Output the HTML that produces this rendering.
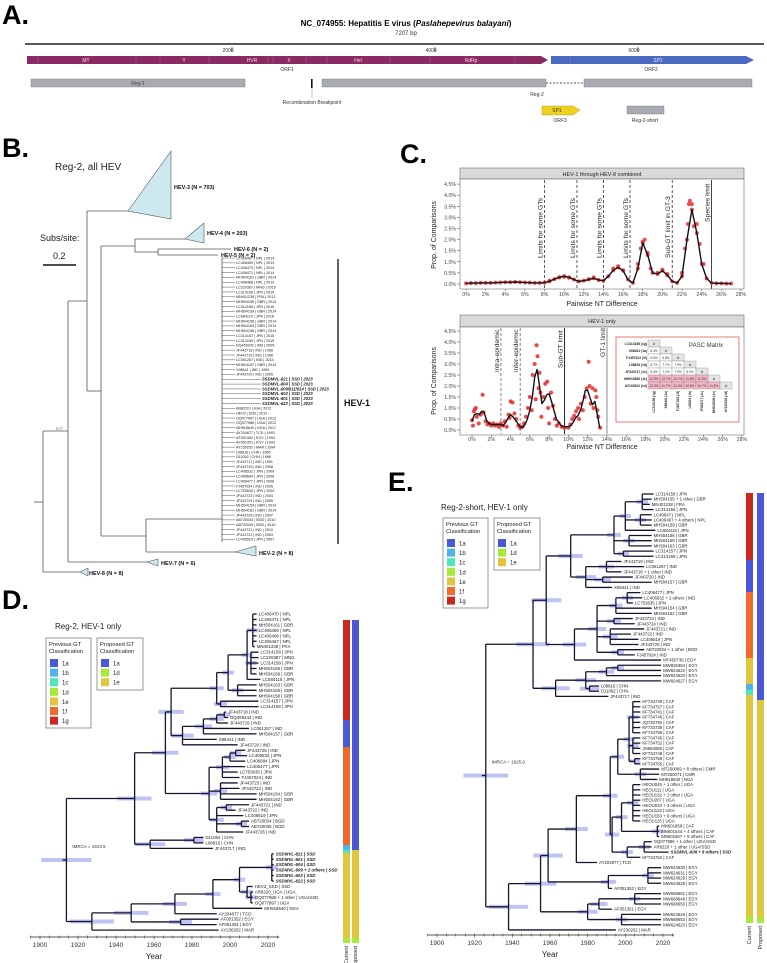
<!DOCTYPE html>
<html><head><meta charset="utf-8"><title>HEV figure</title>
<style>
html,body{margin:0;padding:0;background:#fff;}
svg{display:block;font-family:"Liberation Sans",Arial,sans-serif;}
</style></head>
<body>
<svg id="fig" width="767" height="963" viewBox="0 0 767 963" xmlns="http://www.w3.org/2000/svg">
<rect width="767" height="963" fill="#fff"/>
<!-- Panel A -->
<g>
<text x="2" y="24" font-size="27" font-weight="bold">A.</text>
<text x="406" y="26" font-size="8" font-weight="bold" text-anchor="middle">NC_074955: Hepatitis E virus (<tspan font-style="italic">Paslahepevirus balayani</tspan>)</text>
<text x="406" y="35" font-size="6" text-anchor="middle" fill="#333">7207 bp</text>
<line x1="25" y1="44" x2="764" y2="44" stroke="#222" stroke-width="1.5"/>
<g font-size="5" fill="#333" text-anchor="middle">
<text x="228" y="52">2000</text><line x1="232" y1="47" x2="232" y2="52" stroke="#333" stroke-width="0.6"/>
<text x="431" y="52">4000</text><line x1="435" y1="47" x2="435" y2="52" stroke="#333" stroke-width="0.6"/>
<text x="634" y="52">6000</text><line x1="638" y1="47" x2="638" y2="52" stroke="#333" stroke-width="0.6"/>
</g>
<polygon points="27,56 541,56 548,60 541,64 27,64" fill="#8b2a62"/>
<polygon points="551,56 746,56 754,60 746,64 551,64" fill="#4a6ac2"/>
<g font-size="5" fill="#f3d9e6" text-anchor="middle">
<text x="86" y="62">MT</text><text x="184" y="62">Y</text><text x="252" y="62">HVR</text><text x="289" y="62">X</text><text x="358" y="62">Hel</text><text x="471" y="62">RdRp</text><text x="658" y="62" fill="#dfe6ff">SP2</text>
</g>
<g stroke="#d7a3c0" stroke-width="0.5" stroke-dasharray="1,1">
<line x1="38" y1="57" x2="38" y2="63"/><line x1="136" y1="57" x2="136" y2="63"/><line x1="160" y1="57" x2="160" y2="63"/><line x1="209" y1="57" x2="209" y2="63"/><line x1="268" y1="57" x2="268" y2="63"/><line x1="273" y1="57" x2="273" y2="63"/><line x1="306" y1="57" x2="306" y2="63"/><line x1="327" y1="57" x2="327" y2="63"/><line x1="390" y1="57" x2="390" y2="63"/><line x1="430" y1="57" x2="430" y2="63"/><line x1="515" y1="57" x2="515" y2="63"/><line x1="570" y1="57" x2="570" y2="63"/>
</g>
<text x="287" y="71" font-size="5" fill="#333" text-anchor="middle">ORF1</text>
<text x="651" y="71" font-size="5" fill="#333" text-anchor="middle">ORF2</text>
<rect x="31" y="79" width="214" height="8" fill="#a9abb3" stroke="#777" stroke-width="0.4"/>
<text x="138" y="85" font-size="5" fill="#444" text-anchor="middle">Reg-1</text>
<rect x="311" y="79" width="1.6" height="9" fill="#111"/>
<line x1="312" y1="88" x2="312" y2="98" stroke="#666" stroke-width="0.4"/>
<text x="312" y="104" font-size="5" fill="#333" text-anchor="middle">Recombination Breakpoint</text>
<rect x="322" y="79" width="224" height="8" fill="#a9abb3" stroke="#777" stroke-width="0.4"/>
<line x1="546" y1="83" x2="584" y2="83" stroke="#222" stroke-width="0.8" stroke-dasharray="2,1.5"/>
<rect x="584" y="79" width="168" height="8" fill="#a9abb3" stroke="#777" stroke-width="0.4"/>
<text x="537" y="96" font-size="5" fill="#333" text-anchor="middle">Reg-2</text>
<polygon points="542,106 573,106 580,110 573,115 542,115" fill="#f0d21e" stroke="#a08a10" stroke-width="0.4"/>
<text x="557" y="112" font-size="5" fill="#333" text-anchor="middle">SP1</text>
<text x="560" y="122" font-size="5" fill="#333" text-anchor="middle">ORF3</text>
<rect x="627" y="106" width="37" height="8" fill="#a9abb3" stroke="#777" stroke-width="0.4"/>
<text x="645" y="122" font-size="5" fill="#333" text-anchor="middle">Reg-2-short</text>
</g>

<!-- Panel B skeleton -->
<g id="panelB">
<text x="2" y="157" font-size="27" font-weight="bold">B.</text>
<text x="55" y="170" font-size="10" fill="#222">Reg-2, all HEV</text>
<text x="40" y="241" font-size="9" fill="#222">Subs/site:</text>
<text x="53" y="259" font-size="9" fill="#222">0.2</text>
<line x1="43" y1="265" x2="76" y2="265" stroke="#111" stroke-width="1.5"/>
<g stroke="#555" stroke-width="0.8" fill="none">
<line x1="34" y1="502" x2="43" y2="502"/>
<line x1="43" y1="431" x2="43" y2="572"/>
<line x1="43" y1="572" x2="80" y2="572"/>
<line x1="43" y1="431" x2="68" y2="431"/>
<line x1="68" y1="301" x2="68" y2="562"/>
<line x1="68" y1="562" x2="147" y2="562"/>
<line x1="68" y1="301" x2="87" y2="301"/>
<line x1="87" y1="211" x2="87" y2="391"/>
<line x1="87" y1="211" x2="128" y2="211"/>
<line x1="87" y1="391" x2="101" y2="391"/>
<line x1="101" y1="246" x2="101" y2="536"/>
<line x1="101" y1="246" x2="135" y2="246"/>
<line x1="135" y1="239" x2="135" y2="252"/>
<line x1="135" y1="239" x2="185" y2="239"/>
<line x1="135" y1="252" x2="158" y2="252"/>
<line x1="158" y1="249" x2="158" y2="255"/>
<line x1="158" y1="249" x2="231" y2="249"/>
<line x1="158" y1="255" x2="218" y2="255"/>
<line x1="101" y1="536" x2="146" y2="536"/>
<line x1="146" y1="519" x2="146" y2="552"/>
<line x1="146" y1="519" x2="222" y2="519"/>
<line x1="146" y1="552" x2="235" y2="552"/>
<line x1="222" y1="258" x2="222" y2="542"/>
</g>
<polygon points="128,211 171,151 171,219" fill="#cde8ef" stroke="#555" stroke-width="0.6"/>
<polygon points="185,239 204,223 204,243" fill="#cde8ef" stroke="#555" stroke-width="0.6"/>
<polygon points="235,552 256,546 256,556" fill="#cde8ef" stroke="#555" stroke-width="0.6"/>
<polygon points="147,562 158,559 158,566" fill="#cde8ef" stroke="#555" stroke-width="0.6"/>
<polygon points="80,572 88,568 88,576" fill="#cde8ef" stroke="#555" stroke-width="0.6"/>
<g font-size="5.5" font-weight="bold" fill="#111">
<text x="174" y="189">HEV-3 (N = 703)</text>
<text x="207" y="235">HEV-4 (N = 203)</text>
<text x="234" y="251">HEV-6 (N = 2)</text>
<text x="221" y="257">HEV-5 (N = 2)</text>
<text x="259" y="555">HEV-2 (N = 8)</text>
<text x="161" y="565">HEV-7 (N = 6)</text>
<text x="89" y="575">HEV-8 (N = 8)</text>
</g>
<text x="56" y="430" font-size="3.5" fill="#333">0.77</text>
<line x1="338" y1="259" x2="338" y2="544" stroke="#111" stroke-width="1.3"/>
<text x="344" y="406" font-size="9" font-weight="bold" fill="#111">HEV-1</text>
</g>

<!-- Panel C -->
<g id="panelC">
<text x="400" y="163" font-size="27" font-weight="bold">C.</text>
<rect x="460" y="168" width="284" height="11" fill="#d9d9d9" stroke="#555" stroke-width="0.5"/>
<text x="602" y="176" font-size="5.5" text-anchor="middle" fill="#222">HEV-1 through HEV-8 combined</text>
<rect x="460" y="179" width="284" height="110" fill="#fff" stroke="#555" stroke-width="0.5"/>
<g id="topPlot"></g>
<text x="602" y="306" font-size="7" text-anchor="middle" fill="#222">Pairwise NT Difference</text>
<text transform="translate(436,235) rotate(-90)" font-size="7" text-anchor="middle" fill="#222">Prop. of Comparisons</text>

<rect x="460" y="315" width="284" height="12" fill="#d9d9d9" stroke="#555" stroke-width="0.5"/>
<text x="602" y="323" font-size="5.5" text-anchor="middle" fill="#222">HEV-1 only</text>
<rect x="460" y="327" width="284" height="108" fill="#fff" stroke="#555" stroke-width="0.5"/>
<g id="botPlot"></g>
<text x="602" y="449" font-size="7" text-anchor="middle" fill="#222">Pairwise NT Difference</text>
<text transform="translate(436,381) rotate(-90)" font-size="7" text-anchor="middle" fill="#222">Prop. of Comparisons</text>
<g id="pasc">
<rect x="616" y="337" width="123" height="85" fill="#fff" stroke="#d44" stroke-width="0.7"/>
<text x="706" y="347" font-size="6" text-anchor="middle" fill="#333">PASC Matrix</text>
</g>
</g>

<!-- Panel D -->
<g id="panelD">
<text x="2" y="609" font-size="27" font-weight="bold">D.</text>
<text x="55" y="629" font-size="8" fill="#222">Reg-2, HEV-1 only</text>
<g id="dLegend"></g>
<g id="dTree"></g>
<g id="dAxis"></g>
<g id="dBars"></g>
</g>

<!-- Panel E -->
<g id="panelE">
<text x="388" y="491" font-size="27" font-weight="bold">E.</text>
<text x="441" y="510" font-size="8" fill="#222">Reg-2-short, HEV-1 only</text>
<g id="eLegend"></g>
<g id="eTree"></g>
<g id="eAxis"></g>
<g id="eBars"></g>
</g>
</svg>

<script>
// ---------- Panel C data ----------
var topCurveX = [0,0.5,1,1.5,2,2.5,3,3.5,4,4.5,5,5.5,6,6.5,7,7.5,8,8.5,9,9.5,10,10.5,11,11.5,12,12.5,13,13.5,14,14.5,15,15.5,16,16.5,17,17.5,18,18.5,19,19.5,20,20.5,21,21.5,22,22.5,23,23.5,24,24.5,25,25.5,26,26.5,27];
var topCurveY = [0.03,0.04,0.04,0.05,0.05,0.05,0.06,0.07,0.08,0.08,0.09,0.08,0.07,0.06,0.05,0.05,0.06,0.12,0.22,0.3,0.35,0.3,0.2,0.12,0.15,0.2,0.26,0.18,0.15,0.35,0.62,0.75,0.6,0.2,0.05,0.7,1.85,1.3,0.5,0.45,0.6,0.4,0.12,0.05,0.35,2.0,3.35,2.3,0.9,0.25,0.05,0.03,0.03,0.02,0.02];
var topObsX = [8.5,9.5,10,10.5,12.5,13,15,15.5,16,17.5,17.8,18,18.2,18.5,18.8,19.5,20,20.5,22,22.3,22.6,22.7,22.8,23,23.2,23.5,23.8,24.2];
var topObsY = [0.15,0.3,0.32,0.28,0.22,0.3,0.7,0.8,0.62,0.9,1.6,1.9,2.0,1.4,0.7,0.5,0.65,0.45,0.5,1.6,2.7,3.6,3.75,3.6,2.6,2.7,1.8,0.9];
var topTickLabels = ["0%","2%","4%","6%","8%","10%","12%","14%","16%","18%","20%","22%","24%","26%","28%"];
var yTickLabels = ["0.0%","0.5%","1.0%","1.5%","2.0%","2.5%","3.0%","3.5%","4.0%","4.5%"];
var topDashedAt = [8,11.3,14,16.7,21];
var topDashedLabels = ["Limits for some GTs","Limits for some GTs","Limits for some GTs","Limits for some GTs","Sub-GT limit in GT-3"];
var topSolidAt = [25];
var topSolidLabels = ["Species limit"];

var botLineX = [0,0.25,0.5,0.75,1,1.25,1.5,1.75,2,2.25,2.5,2.75,3,3.25,3.5,3.75,4,4.25,4.5,4.75,5,5.25,5.5,5.75,6,6.25,6.5,6.75,7,7.25,7.5,7.75,8,8.25,8.5,8.75,9,9.25,9.5,9.75,10,10.25,10.5,10.75,11,11.25,11.5,11.75,12,12.25,12.5,12.75,13,13.25];
var botLineY = [0.4,0.7,0.75,0.7,0.85,0.8,0.45,0.3,0.25,0.25,0.25,0.25,0.25,0.2,0.35,0.55,0.7,0.6,0.45,0.3,0.15,0.1,0.25,0.5,0.9,1.5,2.4,2.75,2.0,1.2,1.35,1.6,1.65,1.3,0.9,0.5,0.35,0.2,0.15,0.15,0.15,0.2,0.35,0.55,0.65,0.9,1.3,1.8,1.8,1.45,1.15,1.3,0.7,0.1];
var botDotX = [0.0,0.1,0.2,0.3,0.4,0.5,0.7,0.9,1.1,1.2,1.4,1.6,1.8,2.0,2.2,2.4,2.6,2.8,3.0,3.2,3.4,3.6,3.8,3.9,4.0,4.2,4.4,4.6,4.8,5.0,5.2,5.4,5.6,5.8,6.0,6.2,6.3,6.5,6.6,6.7,6.8,6.9,7.0,7.1,7.2,7.4,7.6,7.8,7.9,8.0,8.2,8.4,8.6,8.8,9.0,9.3,9.6,10.0,10.2,10.4,10.6,10.8,11.0,11.1,11.3,11.5,11.7,11.9,12.1,12.2,12.3,12.5,12.6,12.8,12.9,13.0,13.1,13.3];
var botDotY = [0.45,0.2,0.85,0.95,1.0,0.6,0.3,0.7,1.6,0.8,0.4,0.25,0.3,0.2,0.3,0.2,0.25,0.15,0.3,0.2,0.4,0.15,0.7,0.55,1.3,1.25,0.75,0.5,0.2,0.1,0.15,0.3,0.6,1.0,1.5,0.9,2.5,3.0,1.4,3.85,3.35,1.9,2.6,1.7,0.6,1.5,2.1,2.2,1.0,0.3,1.7,1.1,0.5,0.2,0.3,0.15,0.1,0.1,0.25,0.5,0.65,0.85,1.0,0.5,1.2,0.9,1.5,1.9,3.1,2.0,1.2,1.9,1.0,1.8,1.5,0.9,0.6,0.1];
var botDashedAt = [3,5];
var botDashedLabels = ["intra-epidemic","inter-epidemic"];
var botSolidAt = [9.6,14];
var botSolidLabels = ["Sub-GT limit","GT-1 limit"];

var pascRows = ["LC314158 (1g)","X98441 (1a)","FJ457024 (1f)","L08816 (1b)","JF443717 (1c)","MH918640 (1e)","AY230202 (1d)"];
var pascValues = [[],["6.3%"],["6.6%","6.8%"],["8.7%","7.7%","7.9%"],["8.4%","7.2%","7.9%","5.0%"],["12.5%","12.7%","12.7%","11.8%","11.6%"],["12.3%","11.7%","11.6%","10.8%","10.7%","11.8%"]];

// ---------- Panel D / E tree data ----------
var gtNames = ["1a","1b","1c","1d","1e","1f","1g"];
var gtColors = ["#4b57d6","#4fb4ea","#4fe6bb","#a7ea3b","#e0c640","#ef6a2b","#c9291f"];
var propNames = ["1a","1d","1e"];
var propColors = ["#4b57d6","#a7ea3b","#e0c640"];

// leaves: [label, tipYear]; internal: [nodeYear, child...]
var dTreeData =
[1913.9,
  [1949.8,
    [1966,
      [1969,
        [1993,
          [1999,
            [2009,
              [2012,["LC406470 | NPL",2014],["LC406471 | NPL",2014],["MH504161 | GBR",2014],["LC406469 | NPL",2014],["LC406468 | NPL",2014],["LC406467 | NPL",2014],["MN401238 | FRA",2013]],
              [2011,["LC314156 | JPN",2015],["LC220387 | MNG",2015],["LC314158 | JPN",2015],["MH504155 | GBR",2014],["MH504159 | GBR",2014]],
              ["LC684115 | JPN",2016]],
            [2004,["MH504163 | GBR",2014],["MH504156 | GBR",2014],["MH504158 | GBR",2014]]],
          [1995,["LC314157 | JPN",2015],["LC314159 | JPN",2015]]],
        [1975,
          [1986,[1993,[1997,["JF443718 | IND",1998],["DQ459342 | IND",1999]],["JF443719 | IND",1999]],["LC061267 | IND",2010],["MH504157 | GBR",2014]],
          ["X98441 | IND",1993],["JF443720 | IND",2004]]],
      [1989,
        [1996,[2000,[2003,["JF443725 | IND",2008],["LC406532 | JPN",2009]],["LC406684 | JPN",2008]],["LC406477 | JPN",2008],["LC753635 | JPN",2004],["FJ457024 | IND",2005]],
        [1995,["JF443723 | IND",2004],["JF443724 | IND",2005],["MH504154 | GBR",2014],["MH504162 | GBR",2014]],
        [1993,[1998,["JF443721 | IND",2010],["JF443722 | IND",2003]],["LC406519 | JPN",2007],[2006,["AB720034 | BGD",2010],["AB720035 | BGD",2010]],["JF443726 | IND",2007]]]],
    [1958,[1981,["D11092 | CHN",1986],["L08816 | CHN",1986]],["JF443717 | IND",1991]]],
  [1927.3,
    [1948,
      [1971,
        [1991,
          [2005,
            [2022,["*SSDMVL-621 | SSD",2023],["*SSDMVL-601 | SSD",2023],["*SSDMVL-604 | SSD",2023],["*SSDMVL-609 + 2 others | SSD",2023],["*SSDMVL-602 | SSD",2023],["*SSDMVL-622 | SSD",2023]],
            [2009,["HEV2_SSD | SSD",2012],[2011,["AR8220_UGA | UGA",2012],["OQ077986 + 1 other | UGA/SSD",2012],["OQ077997 | UGA",2012]]]],
          ["MH918640 | NGA",2017]],
        ["AY204877 | TCD",1993]],
      [1974,["AF051352 | EGY",1994],["AF051351 | EGY",1993]]],
    ["AY230202 | MAR",1994]]];

var eTreeData =
[1925.9,
  [1951,
    [1958,
      [1971,
        [1994,
          [2000,
            [2009,["LC314158 | JPN",2015],["MH504155 + 1 other | GBR",2014],["MN401238 | FRA",2013],["LC314156 | JPN",2015]],
            [2008,["LC406471 | NPL",2014],["LC406467 + 4 others | NPL",2014],["MH504159 | GBR",2014]],
            ["LC684115 | JPN",2016]],
          [2002,["MH504156 | GBR",2014],["MH504158 | GBR",2014],["MH504163 | GBR",2014]],
          [1999,["LC314157 | JPN",2015],["LC314159 | JPN",2015]]],
        [1979,
          [1990,["JF443719 | IND",1998],["LC061267 | IND",2010],["JF443718 + 1 other | IND",1998]],
          [1988,["JF443720 | IND",2004],["MH504157 | GBR",2014]],
          ["X98441 | IND",1993]]],
      [1973,
        [1985,
          [1995,[2001,["LC406477 | JPN",2008],["LC406532 + 2 others | IND",2009],["LC753635 | JPN",2004]],["MH504154 | GBR",2014],["MH504162 | GBR",2014]],
          [1994,["JF443723 | IND",2004],["JF443724 | IND",2005]],
          [1992,["JF443721 | IND",2010],["JF443722 | IND",2003],["LC406519 | JPN",2007],["JF443726 | IND",2007]],
          [1996,["AB720034 + 1 other | BGD",2010],["FJ457024 | IND",2005]]],
        ["MT450736 | EGY",2019]]],
    [1963,
      [1979,[1990,[1996,["MW826394 | EGY",2019],["MW824622 | EGY",2019]],["MW824620 | EGY",2019]],["MW824627 | EGY",2019],[1981,["L08816 | CHN",1986],["D11092 | CHN",1986]]],
      ["JF443717 | IND",1991]]],
  [1938,
    [1955,
      [1959,
        [1974,
          [1992,
            [1996,
              [2002,
                [2004,["KF734749 | CAF",2008],["KF734757 | CAF",2008],["KF734741 | CAF",2008],["KF734746 | CAF",2008],["JQ740782 | CAF",2008],["KF734739 | CAF",2008],["KF734756 | CAF",2008]],
                [2004,["KF734745 | CAF",2008],["KF734752 | CAF",2008],["JN863089 | CAF",2008],["KF734748 | CAF",2008]],
                [2005,["KF734758 | CAF",2008],["KF734755 | CAF",2008]]],
              [2008,["MT250069 + 8 others | CMR",2018],["MT250071 | CMR",2018],["MH918640 | NGA",2017]]],
            [1993,
              [1998,
                [2004,["HEOU045 + 1 other | UGA",2008],["HEOU111 | UGA",2008],["HEOU132 + 1 other | UGA",2008],["HEOU207 | UGA",2008],["HEOU033 + 3 others | UGA",2008],["HEOU122 | UGA",2008],["HEOU153 + 6 others | UGA",2008],["HEOU125 | UGA",2008]],
                [2017,["MN601858 | CAF",2018],["MN601544 + 4 others | CAF",2018],["MN601567 + 9 others | CAF",2018]]],
              [2001,[2010,["OQ077986 + 1 other | UGA/SSD",2014],["AR8220 + 1 other | UGA/SSD",2014],["*SSDMVL-609 + 8 others | SSD",2023]],["KF734762 | CAF",2008]]]],
          ["AY204877 | TCD",1985]],
        [1991,[2012,["MW624630 | EGY",2019],["MW624631 | EGY",2019],["MW624629 | EGY",2019],["MW624628 | EGY",2019]],["AF051352 | EGY",1993]]],
      [1980,
        [1986,[2005,["MW668651 | EGY",2019],["MW668649 | EGY",2019],["MW668650 | EGY",2019]],["AF051351 | EGY",1993]],
        [1998,["MW624626 | EGY",2019],["MW668652 | EGY",2019],["MW624623 | EGY",2019]]]],
    ["AY230202 | MAR",1995]]];

var dCurrentSegs = [[620,720,6],[720,747,0],[747,845,5],[845,850,1],[850,853,2],[853,938,4],[938,943,3]];
var dProposedSegs = [[620,850,0],[850,938,2],[938,943,1]];
var eCurrentSegs = [[493,560,6],[560,592,0],[592,658,5],[658,684,4],[684,690,1],[690,695,2],[695,917,4],[917,923,3]];
var eProposedSegs = [[493,700,0],[700,917,2],[917,923,1]];

var bLeaves = ["LC406467 | NPL | 2014","LC406469 | NPL | 2014","LC406470 | NPL | 2014","LC406471 | NPL | 2014","MH504161 | GBR | 2014","LC406468 | NPL | 2014","LC220387 | MNG | 2015","LC314156 | JPN | 2015","MN401238 | FRA | 2013","MH504155 | GBR | 2014","LC314158 | JPN | 2015","MH504159 | GBR | 2014","LC684115 | JPN | 2016","MH504156 | GBR | 2014","MH504163 | GBR | 2014","MH504158 | GBR | 2014","LC314157 | JPN | 2015","LC314159 | JPN | 2015","DQ459342 | IND | 2005","JF443718 | IND | 1998","JF443719 | IND | 1998","LC061267 | IND | 2015","MH504157 | GBR | 2014","X98441 | IND | 1993","JF443720 | IND | 2005","*SSDMVL-621 | SSD | 2023","*SSDMVL-604 | SSD | 2023","*SSDMVL-609/611/614 | SSD | 2023","*SSDMVL-602 | SSD | 2023","*SSDMVL-601 | SSD | 2023","*SSDMVL-622 | SSD | 2023","AR8220 | UGA | 2012","HEV2 | SSD | 2012","OQ077997 | UGA | 2012","OQ077986 | UGA | 2012","MH918640 | NGA | 2017","AY204877 | TCD | 1993","AF051352 | EGY | 1994","AF051351 | EGY | 1993","AY230202 | MAR | 1994","L08816 | CHN | 1986","D11092 | CHN | 1986","JF443717 | IND | 1991","JF443725 | IND | 2008","LC406532 | JPN | 2009","LC406684 | JPN | 2008","LC406477 | JPN | 2008","FJ457024 | IND | 2005","LC753635 | JPN | 2004","JF443723 | IND | 2004","JF443724 | IND | 2005","MH504154 | GBR | 2014","MH504162 | GBR | 2014","JF443726 | IND | 2007","AB720034 | BGD | 2010","AB720035 | BGD | 2010","JF443721 | IND | 2010","JF443722 | IND | 2003","LC406519 | JPN | 2007"];

var NS = "http://www.w3.org/2000/svg";
function mk(tag, parent, attrs, text){
  var el = document.createElementNS(NS, tag);
  for (var k in attrs) el.setAttribute(k, attrs[k]);
  if (text !== undefined) el.textContent = text;
  parent.appendChild(el);
  return el;
}

// ---------- Panel C top ----------
(function(){
  var g = document.getElementById('topPlot');
  var xT = function(v){ return 466 + v*9.82; };
  var yT = function(v){ return 284 - v*22.2; };
  var i, el;
  for (i=0;i<yTickLabels.length;i++){
    el = mk('text', g, {x:456, y:yT(i*0.5)+2, 'font-size':5.2, 'text-anchor':'end', fill:'#444'}, yTickLabels[i]);
    
    
    mk('line', g, {x1:457, x2:460, y1:yT(i*0.5), y2:yT(i*0.5), stroke:'#444', 'stroke-width':0.5});
  }
  for (i=0;i<topTickLabels.length;i++){
    el = mk('text', g, {x:xT(i*2), y:296, 'font-size':5.2, 'text-anchor':'middle', fill:'#444'}, topTickLabels[i]);
    
    
    mk('line', g, {x1:xT(i*2), x2:xT(i*2), y1:289, y2:291, stroke:'#444', 'stroke-width':0.5});
  }
  for (i=0;i<topDashedAt.length;i++){
    el = mk('line', g, {x1:xT(topDashedAt[i]), x2:xT(topDashedAt[i]), y1:180, y2:289, stroke:'#333', 'stroke-width':0.8, 'stroke-dasharray':'3,2'});
    
    
    el = mk('text', g, {transform:'translate('+(xT(topDashedAt[i])-2)+',258) rotate(-90)', 'font-size':6.8, fill:'#222'}, topDashedLabels[i]);
    
    
  }
  for (i=0;i<topSolidAt.length;i++){
    el = mk('line', g, {x1:xT(topSolidAt[i]), x2:xT(topSolidAt[i]), y1:180, y2:289, stroke:'#444', 'stroke-width':1});
    
    
    el = mk('text', g, {transform:'translate('+(xT(topSolidAt[i])-2)+',222) rotate(-90)', 'font-size':6.8, fill:'#222'}, topSolidLabels[i]);
    
    
  }
  var d = '';
  for (i=0;i<topCurveX.length;i++){
    el = mk('circle', g, {cx:xT(topCurveX[i]), cy:yT(topCurveY[i]), r:2, fill:'#e8343a', opacity:0.85});
    
    
  }
  for (i=0;i<topObsX.length;i++){
    el = mk('circle', g, {cx:xT(topObsX[i]), cy:yT(topObsY[i]), r:2, fill:'#e8343a', opacity:0.85});
    
    
  }
  for (i=0;i<topCurveX.length;i++) d += (i?'L':'M') + xT(topCurveX[i]).toFixed(1) + ',' + yT(topCurveY[i]).toFixed(1);
  el = mk('path', g, {d:d, fill:'none', stroke:'#111', 'stroke-width':1.4, 'stroke-linejoin':'round'});
  
  
})();

// ---------- Panel C bottom ----------
(function(){
  var g = document.getElementById('botPlot');
  var xB = function(v){ return 472 + v*9.64; };
  var yB = function(v){ return 430 - v*22; };
  var i, el;
  for (i=0;i<yTickLabels.length;i++){
    el = mk('text', g, {x:456, y:yB(i*0.5)+2, 'font-size':5.2, 'text-anchor':'end', fill:'#444'}, yTickLabels[i]);
    
    
    mk('line', g, {x1:457, x2:460, y1:yB(i*0.5), y2:yB(i*0.5), stroke:'#444', 'stroke-width':0.5});
  }
  for (i=0;i<topTickLabels.length;i++){
    el = mk('text', g, {x:xB(i*2), y:441, 'font-size':5.2, 'text-anchor':'middle', fill:'#444'}, topTickLabels[i]);
    
    
    mk('line', g, {x1:xB(i*2), x2:xB(i*2), y1:435, y2:437, stroke:'#444', 'stroke-width':0.5});
  }
  for (i=0;i<botDashedAt.length;i++){
    el = mk('line', g, {x1:xB(botDashedAt[i]), x2:xB(botDashedAt[i]), y1:328, y2:434, stroke:'#777', 'stroke-width':0.9, 'stroke-dasharray':'3,2'});
    
    
    el = mk('text', g, {transform:'translate('+(xB(botDashedAt[i])-2)+',372) rotate(-90)', 'font-size':6.8, fill:'#222'}, botDashedLabels[i]);
    
    
  }
  for (i=0;i<botSolidAt.length;i++){
    el = mk('line', g, {x1:xB(botSolidAt[i]), x2:xB(botSolidAt[i]), y1:328, y2:434, stroke:(i?'#888':'#222'), 'stroke-width':1});
    
    
    el = mk('text', g, {transform:'translate('+(xB(botSolidAt[i])-2)+','+(i?357:368)+') rotate(-90)', 'font-size':6.8, fill:'#222'}, botSolidLabels[i]);
    
    
  }
  for (i=0;i<botDotX.length;i++){
    el = mk('circle', g, {cx:xB(botDotX[i]), cy:yB(botDotY[i]), r:2, fill:'#e8343a', opacity:0.9});
    
    
  }
  var d = '';
  for (i=0;i<botLineX.length;i++) d += (i?'L':'M') + xB(botLineX[i]).toFixed(1) + ',' + yB(botLineY[i]).toFixed(1);
  el = mk('path', g, {d:d, fill:'none', stroke:'#111', 'stroke-width':1.4, 'stroke-linejoin':'round'});
  
  

  // PASC matrix
  var p = document.getElementById('pasc');
  var cx0 = 648, cw = 12, ch = 7, ry0 = 340;
  for (var r=0;r<pascRows.length;r++){
    var yy = ry0 + r*ch;
    el = mk('text', p, {x:cx0-1, y:yy+5, 'font-size':3.3, 'font-weight':'bold', 'text-anchor':'end', fill:'#222'}, pascRows[r]);
    
    
    for (var c=0;c<=r;c++){
      var isId = (c===r);
      var fill = isId ? '#e6e6e6' : (r>=5 ? '#f6b8c6' : '#fff');
      el = mk('rect', p, {x:cx0+c*cw, y:yy, width:cw, height:ch, fill:fill, stroke:'#777', 'stroke-width':0.3});
      
      
      mk('text', p, {x:cx0+c*cw+cw/2, y:yy+5, 'font-size':3.2, 'text-anchor':'middle', fill:'#333'}, isId ? 'id' : pascValues[r][c]);
    }
  }
  for (var c2=0;c2<pascRows.length;c2++){
    el = mk('text', p, {transform:'translate('+(cx0+c2*cw+cw/2+1)+','+(ry0+pascRows.length*ch+2)+') rotate(-90)', 'font-size':3.2, 'font-weight':'bold', 'text-anchor':'end', fill:'#222'}, pascRows[c2]);
    
    
  }
})();

// ---------- Panel B HEV-1 leaves ----------
(function(){
  var g = document.getElementById('panelB');
  var y0 = 258, sp = 4.85, el;
  for (var i=0;i<bLeaves.length;i++){
    var y = y0 + i*sp;
    var lab = bLeaves[i], bold = lab.charAt(0)==='*';
    if (bold) lab = lab.slice(1);
    var lx = bold ? 262 : 236;
    mk('line', g, {x1:222, x2:lx-1, y1:y, y2:y, stroke:'#555', 'stroke-width':0.5});
    el = mk('text', g, {x:lx, y:y+1.3, 'font-size':bold?4.2:3.7, 'font-weight':bold?'bold':'normal', 'font-style':bold?'italic':'normal', fill:'#222'}, lab);
    
    
  }
})();

// ---------- Legends ----------
function legend(parentId, x, y, prefix){
  var g = document.getElementById(parentId), el, i;
  el = mk('rect', g, {x:x, y:y, width:45, height:90, fill:'#fff', stroke:'#555', 'stroke-width':0.6});
  
  
  mk('text', g, {x:x+3, y:y+8, 'font-size':5.8, fill:'#222'}, 'Previous GT');
  mk('text', g, {x:x+3, y:y+15, 'font-size':5.8, fill:'#222'}, 'Classification');
  for (i=0;i<gtNames.length;i++){
    el = mk('rect', g, {x:x+4, y:y+21+i*9.6, width:8, height:8, fill:gtColors[i]});
    
    
    mk('text', g, {x:x+16, y:y+27.5+i*9.6, 'font-size':6, fill:'#222'}, gtNames[i]);
  }
  var x2 = x + 51;
  el = mk('rect', g, {x:x2, y:y, width:46, height:52, fill:'#fff', stroke:'#555', 'stroke-width':0.6});
  
  
  mk('text', g, {x:x2+3, y:y+8, 'font-size':5.8, fill:'#222'}, 'Proposed GT');
  mk('text', g, {x:x2+3, y:y+15, 'font-size':5.8, fill:'#222'}, 'Classification');
  for (i=0;i<propNames.length;i++){
    el = mk('rect', g, {x:x2+4, y:y+21+i*9.6, width:8, height:8, fill:propColors[i]});
    
    
    mk('text', g, {x:x2+16, y:y+27.5+i*9.6, 'font-size':6, fill:'#222'}, propNames[i]);
  }
}
legend('dLegend', 46, 638, 'd');
legend('eLegend', 443, 518, 'e');

// ---------- Dated trees ----------
function drawTree(gid, data, xOf, yStart, ySp, fontSize, prefix){
  var g = document.getElementById(gid);
  var count = 0;
  var bars = mk('g', g, {});
  var lines = mk('g', g, {});
  var labs = mk('g', g, {});
  function lay(n){
    if (typeof n[0] === 'string'){
      var y = yStart + (count++)*ySp;
      return {y:y, t:n[1], leaf:true, label:n[0]};
    }
    var kids = [];
    for (var i=1;i<n.length;i++) kids.push(lay(n[i]));
    var y = (kids[0].y + kids[kids.length-1].y)/2;
    return {y:y, t:n[0], kids:kids};
  }
  var root = lay(data);
  function draw(nd){
    var el;
    if (nd.leaf){
      var lab = nd.label, bold = lab.charAt(0)==='*';
      if (bold) lab = lab.slice(1);
      el = mk('text', labs, {x:xOf(nd.t)+2, y:nd.y+fontSize*0.35, 'font-size':fontSize, 'font-weight':bold?'bold':'normal', 'font-style':bold?'italic':'normal', fill:'#222'}, lab);
      
      
      return;
    }
    var x = xOf(nd.t);
    var hw = Math.max(3, (2024-nd.t)*0.12);
    el = mk('rect', bars, {x:x-hw*1.9, y:nd.y-2, width:hw*3.8, height:4, fill:'#a9aff0', opacity:0.75});
    
    
    var ys = nd.kids.map(function(k){return k.y;});
    mk('line', lines, {x1:x, x2:x, y1:Math.min.apply(null,ys), y2:Math.max.apply(null,ys), stroke:'#15152e', 'stroke-width':1.3});
    for (var i=0;i<nd.kids.length;i++){
      var k = nd.kids[i];
      el = mk('line', lines, {x1:x, x2:xOf(k.t), y1:k.y, y2:k.y, stroke:'#15152e', 'stroke-width':1.3});
      
      
      draw(k);
    }
  }
  draw(root);
  mk('line', lines, {x1:xOf(root.t)-4, x2:xOf(root.t), y1:root.y, y2:root.y, stroke:'#15152e', 'stroke-width':1.3});
  var t = mk('text', labs, {x:xOf(root.t)+6, y:root.y-12, 'font-size':4.5, fill:'#333'}, 'tMRCA = '+root.t.toFixed(1));
  
  
}
var xD = function(yr){ return 40 + (yr-1900)*1.9; };
var xE = function(yr){ return 437 + (yr-1900)*1.883; };
drawTree('dTree', dTreeData, xD, 614, 5.45, 4.4, 'd');
drawTree('eTree', eTreeData, xE, 494, 5.19, 4.3, 'e');

function axis(gid, xOf, y, prefix){
  var g = document.getElementById(gid), el;
  el = mk('line', g, {x1:xOf(1895), x2:xOf(2026), y1:y, y2:y, stroke:'#222', 'stroke-width':0.8});
  
  
  for (var yr=1895; yr<=2025; yr+=5){
    mk('line', g, {x1:xOf(yr), x2:xOf(yr), y1:y-1.5, y2:y+(yr%20===0?2.5:1.5), stroke:'#222', 'stroke-width':0.5});
    if (yr%20===0){
      el = mk('text', g, {x:xOf(yr), y:y+10, 'font-size':6.5, 'text-anchor':'middle', fill:'#333'}, String(yr));
      
      
    }
  }
  el = mk('text', g, {x:(xOf(1900)+xOf(2020))/2, y:y+22, 'font-size':8, 'text-anchor':'middle', fill:'#222'}, 'Year');
  
  
}
axis('dAxis', xD, 937, 'd');
axis('eAxis', xE, 935, 'e');

function bars(gid, x1, x2, cur, prop, labY, prefix){
  var g = document.getElementById(gid), el, i, s;
  for (i=0;i<cur.length;i++){
    s = cur[i];
    el = mk('rect', g, {x:x1, y:s[0], width:7, height:s[1]-s[0], fill:gtColors[s[2]]});
    
    
  }
  for (i=0;i<prop.length;i++){
    s = prop[i];
    el = mk('rect', g, {x:x2, y:s[0], width:7, height:s[1]-s[0], fill:propColors[s[2]]});
    
    
  }
  el = mk('text', g, {transform:'translate('+(x1+5)+','+labY+') rotate(-90)', 'font-size':5.5, 'text-anchor':'end', fill:'#222'}, 'Current');
  
  
  el = mk('text', g, {transform:'translate('+(x2+5)+','+labY+') rotate(-90)', 'font-size':5.5, 'text-anchor':'end', fill:'#222'}, 'Proposed');
  
  
}
bars('dBars', 343, 352, dCurrentSegs, dProposedSegs, 946, 'd');
bars('eBars', 746, 757, eCurrentSegs, eProposedSegs, 926, 'e');
</script>
</body></html>
